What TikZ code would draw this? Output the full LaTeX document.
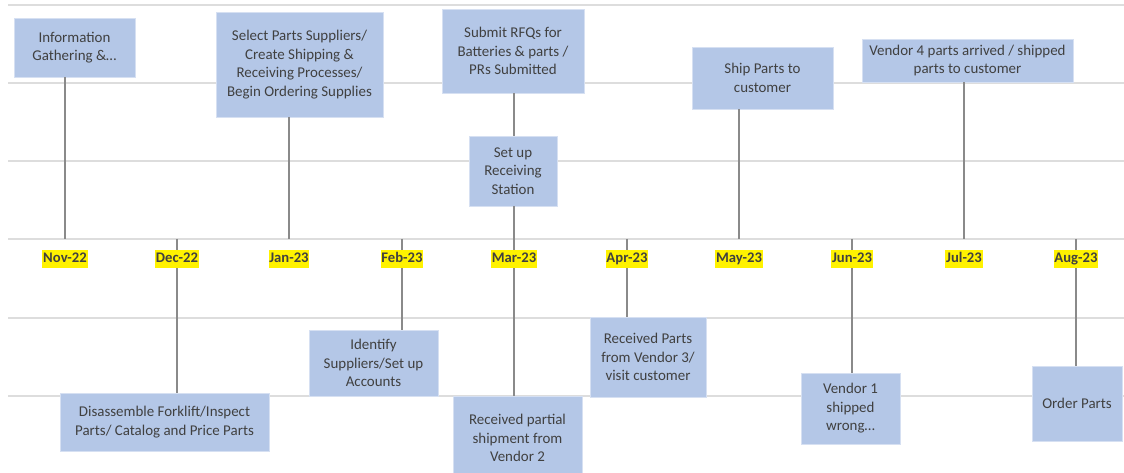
\documentclass[tikz,border=0pt]{standalone}
\usepackage{fontspec}
\setmainfont{Carlito}
\usepackage{tikz}
\definecolor{boxblue}{HTML}{B4C7E7}
\definecolor{txtgray}{HTML}{404040}
\definecolor{gridgray}{HTML}{DDDDDD}
\definecolor{linegray}{HTML}{8A8A8A}

\begin{document}
\begin{tikzpicture}[x=0.75pt,y=-0.75pt,
  box/.style 2 args={fill=boxblue,draw=boxblue!55!white,line width=0.5pt,
    text=txtgray,align=center,inner sep=0pt,
    font=\fontsize{11.2}{13.9}\selectfont,
    minimum width=#1*0.75pt,minimum height=#2*0.75pt},
  month/.style={fill=yellow,text=txtgray,inner xsep=0.6pt,inner ysep=0pt,
    font=\fontsize{11}{13}\selectfont\bfseries,
    text height=8.2pt,text depth=2.6pt,minimum height=14.2pt},
  gridline/.style={draw=gridgray,line width=0.8pt},
  link/.style={draw=linegray,line width=1.1pt}]
\useasboundingbox (0,0) rectangle (1124,473);
\draw[gridline] (8,5)--(1124,5);
\draw[gridline] (8,83)--(1124,83);
\draw[gridline] (8,161)--(1124,161);
\draw[gridline] (8,239)--(1124,239);
\draw[gridline] (8,318)--(1124,318);
\draw[gridline] (8,396)--(1124,396);
\coordinate (nov) at (65,239);
\coordinate (dec) at (177,239);
\coordinate (jan) at (289,239);
\coordinate (feb) at (402,239);
\coordinate (mar) at (514,239);
\coordinate (apr) at (627,239);
\coordinate (may) at (739,239);
\coordinate (jun) at (852,239);
\coordinate (jul) at (964,239);
\coordinate (aug) at (1076,239);
\node[box={121}{59}] (info) at (74.5,47.5) {Information\\Gathering \&…};
\node[box={167}{105}] (select) at (299.5,64.5) {Select Parts Suppliers/\\Create Shipping \&\\Receiving Processes/\\Begin Ordering Supplies};
\node[box={142}{84}] (rfq) at (513,51) {Submit RFQs for\\Batteries \& parts /\\PRs Submitted};
\node[box={88}{70}] (setup) at (513,171) {Set up\\Receiving\\Station};
\node[box={141}{62}] (ship) at (762.5,78) {Ship Parts to\\customer};
\node[box={211}{43}] (vend4) at (967.5,60.5) {Vendor 4 parts arrived / shipped\\parts to customer};
\node[box={209}{58}] (disasm) at (164.5,422) {Disassemble Forklift/Inspect\\Parts/ Catalog and Price Parts};
\node[box={129}{66}] (ident) at (373.5,363) {Identify\\Suppliers/Set up\\Accounts};
\node[box={129}{84}] (partial) at (517.5,438) {Received partial\\shipment from\\Vendor 2};
\node[box={116}{80}] (vend3) at (648,357) {Received Parts\\from Vendor 3/\\visit customer};
\node[box={99}{71}] (vend1) at (850.5,408.5) {Vendor 1\\shipped\\wrong…};
\node[box={90}{75}] (order) at (1077,403.5) {Order Parts};
\draw[link] (nov) -- (nov |- info.south);
\draw[link] (dec) -- (dec |- disasm.north);
\draw[link] (jan) -- (jan |- select.south);
\draw[link] (feb) -- (feb |- ident.north);
\draw[link] (mar) -- (mar |- setup.south);
\draw[link] (mar |- setup.north) -- (mar |- rfq.south);
\draw[link] (mar) -- (mar |- partial.north);
\draw[link] (apr) -- (apr |- vend3.north);
\draw[link] (may) -- (may |- ship.south);
\draw[link] (jun) -- (jun |- vend1.north);
\draw[link] (jul) -- (jul |- vend4.south);
\draw[link] (aug) -- (aug |- order.north);
\node[month] (lnov) at (65,259) {Nov-22};
\node[month] (ldec) at (177,259) {Dec-22};
\node[month] (ljan) at (289,259) {Jan-23};
\node[month] (lfeb) at (402,259) {Feb-23};
\node[month] (lmar) at (514,259) {Mar-23};
\node[month] (lapr) at (627,259) {Apr-23};
\node[month] (lmay) at (739,259) {May-23};
\node[month] (ljun) at (852,259) {Jun-23};
\node[month] (ljul) at (964,259) {Jul-23};
\node[month] (laug) at (1076,259) {Aug-23};
\end{tikzpicture}
\end{document}
